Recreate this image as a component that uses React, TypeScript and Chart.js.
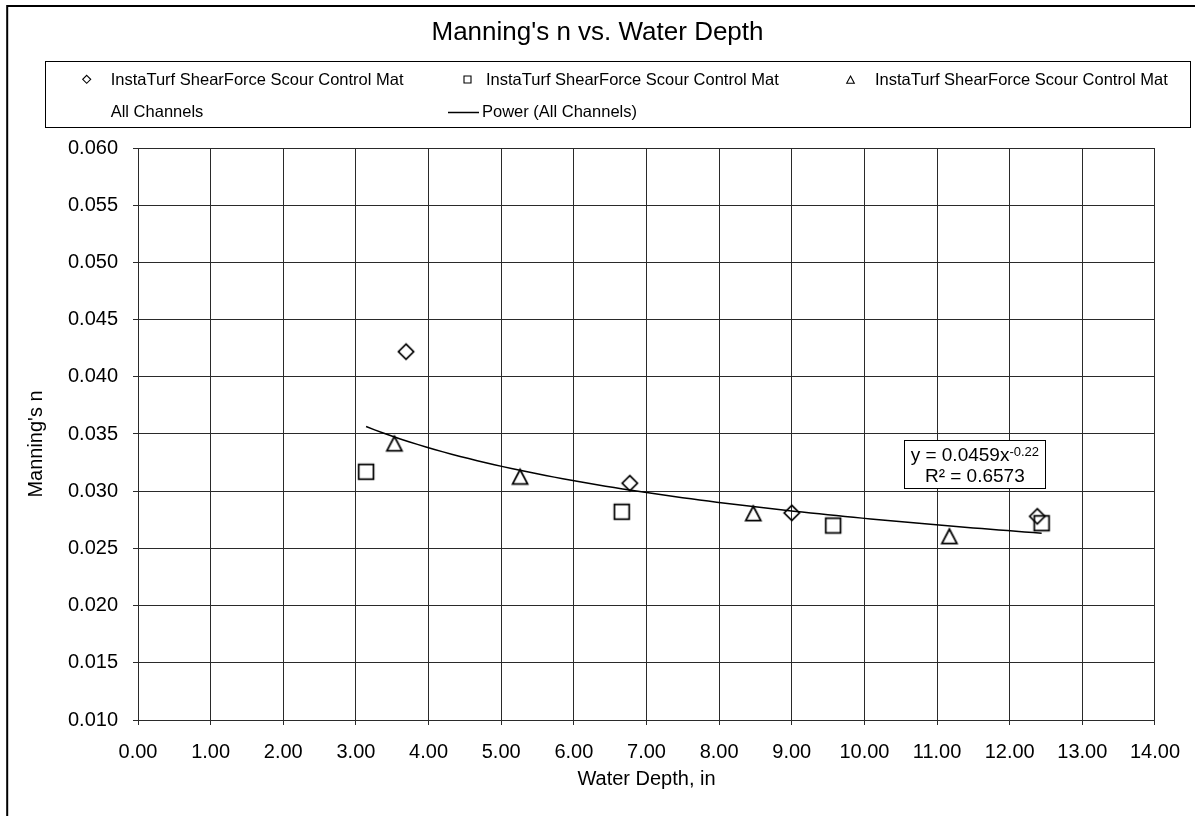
import React, { useEffect, useRef } from 'react';
import { Chart, registerables } from 'chart.js';

Chart.register(...registerables);

const FAMILY = "'Liberation Sans', Arial, Helvetica, sans-serif";

// ---- data ----
const TITLE = "Manning's n vs. Water Depth";
const X_TITLE = 'Water Depth, in';
const Y_TITLE = "Manning's n";
const SERIES_LABEL = 'InstaTurf ShearForce Scour Control Mat';
const ALL_LABEL = 'All Channels';
const TREND_LABEL = 'Power (All Channels)';

const DIAMOND_X = [3.69, 6.77, 9.0, 12.38];
const DIAMOND_Y = [0.0422, 0.0307, 0.0281, 0.0278];
const SQUARE_X = [3.14, 6.66, 9.57, 12.44];
const SQUARE_Y = [0.0317, 0.0282, 0.027, 0.0272];
const TRIANGLE_X = [3.53, 5.26, 8.47, 11.17];
const TRIANGLE_Y = [0.0342, 0.0313, 0.0281, 0.0261];

const X_TICK_LABELS = ['0.00', '1.00', '2.00', '3.00', '4.00', '5.00', '6.00', '7.00', '8.00', '9.00', '10.00', '11.00', '12.00', '13.00', '14.00'];
const Y_TICK_LABELS = ['0.010', '0.015', '0.020', '0.025', '0.030', '0.035', '0.040', '0.045', '0.050', '0.055', '0.060'];

const TREND_EQ = 'y = 0.0459x';
const TREND_EXP = '-0.22';
const TREND_R2 = 'R² = 0.6573';
const TREND_LABEL_X = 11.52; // centre of label box, data units
const TREND_LABEL_Y = 0.0345; // top of label box, data units

const GRID = '#2a2a2a';

// ---- helpers ----
function powerFit(xs: number[], ys: number[]) {
  const lx = xs.map(Math.log);
  const ly = ys.map(Math.log);
  const n = xs.length;
  const mx = lx.reduce((s, v) => s + v, 0) / n;
  const my = ly.reduce((s, v) => s + v, 0) / n;
  let sxy = 0;
  let sxx = 0;
  for (let i = 0; i < n; i++) {
    sxy += (lx[i] - mx) * (ly[i] - my);
    sxx += (lx[i] - mx) * (lx[i] - mx);
  }
  const b = sxy / sxx;
  const a = Math.exp(my - b * mx);
  return { a, b };
}

function makeMarker(kind: string, size: number, half: number, lw: number) {
  const c = document.createElement('canvas');
  c.width = size;
  c.height = size;
  const g = c.getContext('2d')!;
  drawShape(g, kind, size / 2, size / 2, half, lw);
  return c;
}

function drawShape(g: CanvasRenderingContext2D, kind: string, cx: number, cy: number, h: number, lw: number) {
  g.save();
  g.strokeStyle = '#000';
  g.lineWidth = lw;
  g.lineJoin = 'miter';
  g.beginPath();
  if (kind === 'square') {
    g.rect(cx - h, cy - h, 2 * h, 2 * h);
  } else if (kind === 'diamond') {
    g.moveTo(cx, cy - h);
    g.lineTo(cx + h, cy);
    g.lineTo(cx, cy + h);
    g.lineTo(cx - h, cy);
    g.closePath();
  } else {
    g.moveTo(cx, cy - h * 0.9);
    g.lineTo(cx + h, cy + h);
    g.lineTo(cx - h, cy + h);
    g.closePath();
  }
  g.stroke();
  g.restore();
}

const pts = (xs: number[], ys: number[]) => xs.map((x, i) => ({ x, y: ys[i] }));

export default function App() {
  const ref = useRef<HTMLCanvasElement>(null);

  useEffect(() => {
    const canvas = ref.current!;
    const mDiamond = makeMarker('diamond', 24, 7.6, 1.75);
    const mSquare = makeMarker('square', 24, 7.4, 1.75);
    const mTriangle = makeMarker('triangle', 24, 7.5, 1.75);

    const allX = [...DIAMOND_X, ...SQUARE_X, ...TRIANGLE_X];
    const allY = [...DIAMOND_Y, ...SQUARE_Y, ...TRIANGLE_Y];
    const fit = powerFit(allX, allY);
    const minX = Math.min(...allX);
    const maxX = Math.max(...allX);
    const trend: { x: number; y: number }[] = [];
    const N = 80;
    for (let i = 0; i < N; i++) {
      const x = minX + ((maxX - minX) * i) / (N - 1);
      trend.push({ x, y: fit.a * Math.pow(x, fit.b) });
    }

    const background = {
      id: 'bgBorder',
      beforeDraw(chart: any) {
        const { ctx, width, height } = chart;
        ctx.save();
        ctx.fillStyle = '#fff';
        ctx.fillRect(0, 0, width, height);
        ctx.strokeStyle = '#000';
        ctx.lineWidth = 2;
        ctx.strokeRect(7.2, 6, width + 40, height + 40);
        ctx.restore();
      },
    };

    const titles = {
      id: 'titles',
      afterDraw(chart: any) {
        const { ctx, chartArea } = chart;
        ctx.save();
        ctx.fillStyle = '#000';
        ctx.textAlign = 'center';
        ctx.textBaseline = 'middle';
        ctx.font = `26px ${FAMILY}`;
        ctx.fillText(TITLE, 597.5, 33);
        ctx.translate(36.7, (chartArea.top + chartArea.bottom) / 2 + 10);
        ctx.rotate(-Math.PI / 2);
        ctx.font = `20px ${FAMILY}`;
        ctx.fillText(Y_TITLE, 0, 0);
        ctx.restore();
      },
    };

    const legendBox = {
      id: 'legendBox',
      afterDraw(chart: any) {
        const { ctx } = chart;
        ctx.save();
        ctx.strokeStyle = '#000';
        ctx.lineWidth = 1;
        ctx.strokeRect(45.5, 61.5, 1145, 66);
        ctx.font = `16.5px ${FAMILY}`;
        ctx.fillStyle = '#000';
        ctx.textBaseline = 'middle';
        ctx.textAlign = 'left';
        const r1 = 80;
        const r2 = 112;
        drawShape(ctx, 'diamond', 86.7, r1 - 0.7, 4, 1.1);
        ctx.fillText(SERIES_LABEL, 110.7, r1);
        drawShape(ctx, 'square', 467.5, r1 - 0.5, 3.5, 1.1);
        ctx.fillText(SERIES_LABEL, 486, r1);
        drawShape(ctx, 'triangle', 850.5, r1 - 0.5, 3.8, 1.1);
        ctx.fillText(SERIES_LABEL, 875, r1);
        ctx.fillText(ALL_LABEL, 110.7, r2);
        ctx.beginPath();
        ctx.lineWidth = 1.5;
        ctx.moveTo(448, r2 + 0.5);
        ctx.lineTo(479, r2 + 0.5);
        ctx.stroke();
        ctx.fillText(TREND_LABEL, 482, r2);
        ctx.restore();
      },
    };

    const trendLabel = {
      id: 'trendLabel',
      afterDatasetsDraw(chart: any) {
        const { ctx } = chart;
        const xs = chart.scales.x;
        const ys = chart.scales.y;
        const cx = xs.getPixelForValue(TREND_LABEL_X);
        const top = Math.round(ys.getPixelForValue(TREND_LABEL_Y)) + 0.5;
        const mainFont = `19px ${FAMILY}`;
        const supFont = `13px ${FAMILY}`;
        ctx.save();
        ctx.font = mainFont;
        const w1 = ctx.measureText(TREND_EQ).width;
        const w3 = ctx.measureText(TREND_R2).width;
        ctx.font = supFont;
        const w2 = ctx.measureText(TREND_EXP).width;
        const lineW = w1 + w2;
        const boxW = Math.round(Math.max(lineW, w3) + 13);
        const boxH = 48;
        const left = Math.round(cx - boxW / 2) + 0.5;
        ctx.fillStyle = '#fff';
        ctx.fillRect(left, top, boxW, boxH);
        ctx.strokeStyle = '#000';
        ctx.lineWidth = 1;
        ctx.strokeRect(left, top, boxW, boxH);
        ctx.fillStyle = '#000';
        ctx.textBaseline = 'alphabetic';
        ctx.textAlign = 'left';
        const x0 = cx - lineW / 2;
        ctx.font = mainFont;
        ctx.fillText(TREND_EQ, x0, top + 20);
        ctx.font = supFont;
        ctx.fillText(TREND_EXP, x0 + w1, top + 15);
        ctx.font = mainFont;
        ctx.textAlign = 'center';
        ctx.fillText(TREND_R2, cx, top + 41.7);
        ctx.restore();
      },
    };

    const chart = new Chart(canvas, {
      type: 'scatter',
      data: {
        datasets: [
          {
            label: SERIES_LABEL,
            data: pts(DIAMOND_X, DIAMOND_Y),
            pointStyle: mDiamond as any,
            pointRadius: 9,
            showLine: false,
            borderColor: '#000',
            backgroundColor: 'transparent',
            order: 1,
          },
          {
            label: SERIES_LABEL,
            data: pts(SQUARE_X, SQUARE_Y),
            pointStyle: mSquare as any,
            pointRadius: 9,
            showLine: false,
            borderColor: '#000',
            backgroundColor: 'transparent',
            order: 1,
          },
          {
            label: SERIES_LABEL,
            data: pts(TRIANGLE_X, TRIANGLE_Y),
            pointStyle: mTriangle as any,
            pointRadius: 9,
            showLine: false,
            borderColor: '#000',
            backgroundColor: 'transparent',
            order: 1,
          },
          {
            label: ALL_LABEL,
            data: pts(allX, allY),
            pointRadius: 0,
            showLine: false,
            borderColor: 'transparent',
            backgroundColor: 'transparent',
            order: 2,
          },
          {
            label: TREND_LABEL,
            data: trend,
            showLine: true,
            pointRadius: 0,
            borderColor: '#000',
            borderWidth: 1.5,
            tension: 0,
            fill: false,
            order: 0,
          } as any,
        ],
      },
      options: {
        responsive: false,
        animation: false,
        devicePixelRatio: 1,
        layout: { padding: { left: 8, right: 38, top: 148, bottom: 0 } },
        plugins: {
          legend: { display: false },
          tooltip: { enabled: false },
          title: { display: false, text: TITLE },
        },
        scales: {
          x: {
            type: 'linear',
            min: 0,
            max: 14,
            afterBuildTicks: (scale: any) => {
              scale.ticks = X_TICK_LABELS.map((l) => ({ value: parseFloat(l) }));
            },
            afterFit: (scale: any) => {
              scale.height = 96;
            },
            ticks: {
              autoSkip: false,
              maxRotation: 0,
              padding: 15,
              color: '#000',
              font: { family: FAMILY, size: 20 },
              callback: (_v: any, i: number) => X_TICK_LABELS[i],
            },
            grid: { color: GRID, lineWidth: 1, tickLength: 5, drawTicks: true, tickColor: GRID },
            border: { display: true, color: GRID, width: 1 },
            title: {
              display: true,
              text: X_TITLE,
              color: '#000',
              font: { family: FAMILY, size: 20 },
              padding: { top: 0, bottom: 25 },
            },
          },
          y: {
            type: 'linear',
            min: 0.01,
            max: 0.06,
            afterBuildTicks: (scale: any) => {
              scale.ticks = Y_TICK_LABELS.map((l) => ({ value: parseFloat(l) }));
            },
            afterFit: (scale: any) => {
              scale.width = 130;
            },
            ticks: {
              padding: 15,
              color: '#000',
              font: { family: FAMILY, size: 20 },
              callback: (_v: any, i: number) => Y_TICK_LABELS[i],
            },
            grid: { color: GRID, lineWidth: 1, tickLength: 5, drawTicks: true, tickColor: GRID },
            border: { display: true, color: GRID, width: 1 },
            title: { display: false, text: Y_TITLE },
          },
        },
      },
      plugins: [background, trendLabel, legendBox, titles],
    });

    return () => chart.destroy();
  }, []);

  return (
    <div style={{ position: 'fixed', left: 0, top: 0, width: 1195, height: 816, background: '#fff' }}>
      <canvas ref={ref} width={1195} height={816} style={{ display: 'block', width: 1195, height: 816 }} />
    </div>
  );
}
